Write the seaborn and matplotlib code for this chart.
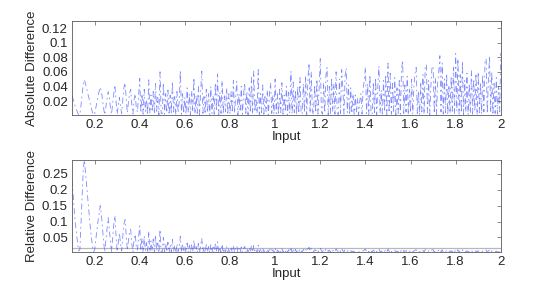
"""
Absolute / relative difference against input, two stacked panels
"""
import numpy as np
import pandas as pd
import matplotlib
matplotlib.use('Agg')
import matplotlib.pyplot as plt
from matplotlib.ticker import FuncFormatter
import seaborn as sns

# Input grid (0.1 .. 2 in steps of 0.005)
input_values = np.round(np.arange(0.1, 2.0 + 1e-9, 0.005), 3)

# Absolute difference, in units of 1e-3, one row per 0.1 of input
abs_diff_milli = [
    27, 22, 17, 12, 8, 4, 1, 2, 15, 30, 44, 49, 43, 37, 30, 24, 17, 11, 5, 1,
    2, 10, 18, 26, 33, 39, 34, 22, 10, 1, 12, 22, 33, 24, 12, 2, 16, 30, 42, 20,
    2, 14, 25, 12, 3, 22, 38, 45, 24, 4, 18, 30, 36, 14, 2, 22, 30, 10, 5, 28,
    51, 4, 30, 2, 36, 6, 22, 1, 49, 3, 28, 5, 33, 2, 44, 6, 25, 1, 60, 3,
    3, 45, 2, 30, 4, 35, 1, 28, 2, 47, 5, 26, 1, 33, 4, 20, 62, 2, 30, 3,
    25, 2, 38, 4, 30, 1, 34, 5, 52, 2, 28, 3, 40, 1, 33, 61, 3, 26, 2, 36,
    4, 30, 1, 40, 3, 28, 2, 45, 6, 57, 1, 32, 3, 48, 2, 27, 5, 38, 1, 30,
    2, 33, 4, 48, 3, 26, 47, 1, 30, 5, 40, 2, 28, 45, 3, 33, 1, 38, 4, 52,
    2, 61, 5, 24, 3, 63, 1, 30, 4, 42, 2, 26, 5, 35, 1, 30, 45, 3, 28, 2,
    50, 3, 30, 1, 36, 4, 45, 2, 28, 5, 40, 1, 32, 3, 61, 2, 46, 4, 35, 1,
    40, 3, 52, 5, 2, 44, 4, 55, 1, 48, 72, 3, 60, 6, 1, 42, 4, 50, 2, 38,
    78, 5, 2, 45, 4, 55, 66, 1, 40, 3, 52, 5, 44, 2, 60, 4, 1, 50, 3, 63,
    38, 2, 55, 65, 4, 42, 1, 38, 3, 30, 2, 28, 4, 24, 1, 20, 30, 2, 38, 48,
    66, 3, 44, 1, 56, 5, 2, 46, 4, 52, 1, 40, 68, 3, 35, 2, 48, 5, 56, 1,
    72, 4, 58, 2, 44, 6, 52, 1, 38, 3, 48, 2, 62, 76, 3, 42, 5, 54, 1, 36,
    4, 50, 2, 40, 58, 66, 3, 34, 1, 46, 5, 56, 2, 68, 70, 4, 48, 1, 40, 66,
    68, 3, 52, 1, 44, 60, 82, 5, 72, 2, 50, 4, 58, 1, 42, 3, 54, 6, 66, 2,
    85, 6, 78, 2, 56, 4, 75, 1, 48, 5, 58, 1, 44, 3, 62, 2, 50, 6, 58, 1,
    60, 4, 46, 2, 56, 5, 75, 78, 3, 50, 82, 4, 60, 1, 44, 3, 52, 2, 40, 5,
    86,
]

# Relative difference, in units of 1e-3
rel_diff_milli = [
    231, 183, 136, 92, 59, 29, 7, 13, 97, 188, 267, 294, 253, 211, 167, 130, 89, 56, 25, 5,
    9, 42, 72, 100, 125, 150, 125, 79, 35, 4, 40, 73, 112, 78, 38, 6, 49, 90, 119, 55,
    5, 36, 64, 30, 7, 54, 92, 106, 56, 9, 41, 67, 75, 29, 4, 44, 60, 20, 10, 52,
    86, 7, 48, 3, 55, 9, 33, 1, 70, 4, 39, 7, 45, 3, 58, 8, 32, 1, 75, 4,
    4, 50, 2, 31, 4, 35, 1, 27, 2, 44, 5, 24, 1, 30, 4, 18, 54, 2, 26, 3,
    22, 2, 32, 3, 25, 1, 28, 4, 42, 2, 22, 2, 31, 1, 26, 47, 2, 20, 2, 27,
    3, 21, 1, 27, 2, 19, 1, 29, 4, 36, 1, 20, 2, 29, 1, 16, 3, 22, 1, 17,
    3, 17, 3, 25, 3, 13, 24, 3, 15, 3, 20, 3, 14, 22, 3, 16, 3, 18, 3, 24,
    3, 24, 3, 10, 3, 25, 3, 12, 3, 17, 3, 11, 3, 14, 3, 12, 18, 3, 11, 3,
    17, 3, 10, 3, 12, 3, 15, 3, 10, 3, 13, 3, 11, 3, 20, 3, 15, 3, 12, 3,
    11, 5, 14, 7, 4, 12, 8, 15, 5, 13, 19, 6, 16, 9, 4, 11, 8, 13, 5, 10,
    17, 8, 5, 11, 6, 13, 15, 6, 10, 4, 12, 7, 10, 5, 14, 8, 6, 12, 4, 14,
    8, 5, 11, 13, 6, 9, 4, 8, 5, 7, 4, 6, 5, 6, 4, 5, 6, 4, 8, 10,
    13, 5, 9, 4, 11, 7, 4, 10, 6, 11, 4, 8, 14, 5, 7, 4, 10, 6, 11, 4,
    13, 6, 11, 4, 8, 6, 10, 4, 7, 5, 9, 4, 11, 14, 5, 8, 6, 10, 4, 7,
    5, 9, 4, 7, 10, 11, 4, 6, 4, 8, 5, 9, 4, 11, 12, 5, 8, 4, 7, 11,
    11, 4, 8, 4, 7, 9, 13, 5, 11, 4, 8, 4, 9, 4, 7, 4, 8, 5, 10, 4,
    12, 6, 11, 4, 8, 5, 11, 4, 7, 4, 8, 4, 6, 4, 9, 4, 7, 4, 8, 4,
    8, 4, 6, 4, 7, 5, 10, 10, 4, 7, 11, 4, 8, 4, 6, 4, 7, 4, 5, 4,
    11,
]

# faint reference level drawn across the lower panel
rel_reference_level = [0.0155]

x_ticks = [0.2, 0.4, 0.6, 0.8, 1.0, 1.2, 1.4, 1.6, 1.8, 2.0]
abs_ticks = [0.02, 0.04, 0.06, 0.08, 0.1, 0.12]
rel_ticks = [0.05, 0.1, 0.15, 0.2, 0.25]

df = pd.DataFrame({
    'Input': input_values,
    'abs': np.array(abs_diff_milli) / 1000.0,
    'rel': np.array(rel_diff_milli) / 1000.0,
})

sns.set_style('white')
plt.rcParams['font.family'] = ['Liberation Sans', 'DejaVu Sans']
FS = 9.5

EDGE = '#5a5a5a'
LINE = '#2a3cff'
DASH = (0, (7, 4, 2, 4))

fig = plt.figure(figsize=(5.54, 2.90), dpi=100)
ax_abs = fig.add_axes([0.130, 0.6034, 0.774, 0.324])
ax_rel = fig.add_axes([0.130, 0.1310, 0.774, 0.3172])

sns.lineplot(data=df, x='Input', y='abs', ax=ax_abs, color=LINE,
             linewidth=0.6, linestyle=DASH, alpha=0.6)
sns.lineplot(data=df, x='Input', y='rel', ax=ax_rel, color=LINE,
             linewidth=0.6, linestyle=DASH, alpha=0.6)
ax_rel.axhline(rel_reference_level[0], color='#b8b8b8', linewidth=0.9, zorder=1)

fmt = FuncFormatter(lambda v, pos: '%g' % v)

for ax, yt, ylab in [(ax_abs, abs_ticks, 'Absolute Difference'),
                     (ax_rel, rel_ticks, 'Relative Difference')]:
    ax.set_xlim(0.1, 2.0)
    ax.set_xticks(x_ticks)
    ax.set_yticks(yt)
    ax.xaxis.set_major_formatter(fmt)
    ax.yaxis.set_major_formatter(fmt)
    ax.set_xlabel('Input', fontsize=FS, labelpad=0)
    ax.set_ylabel(ylab, fontsize=FS, labelpad=3)
    ax.tick_params(direction='in', top=True, right=True, length=3,
                   width=0.5, color=EDGE, labelsize=FS, pad=3)
    for sp in ax.spines.values():
        sp.set_color(EDGE)
        sp.set_linewidth(0.6)

ax_abs.set_ylim(0.0008, 0.1296)
ax_rel.set_ylim(0.004, 0.294)

plt.savefig('out.png', dpi=100)
plt.close()
